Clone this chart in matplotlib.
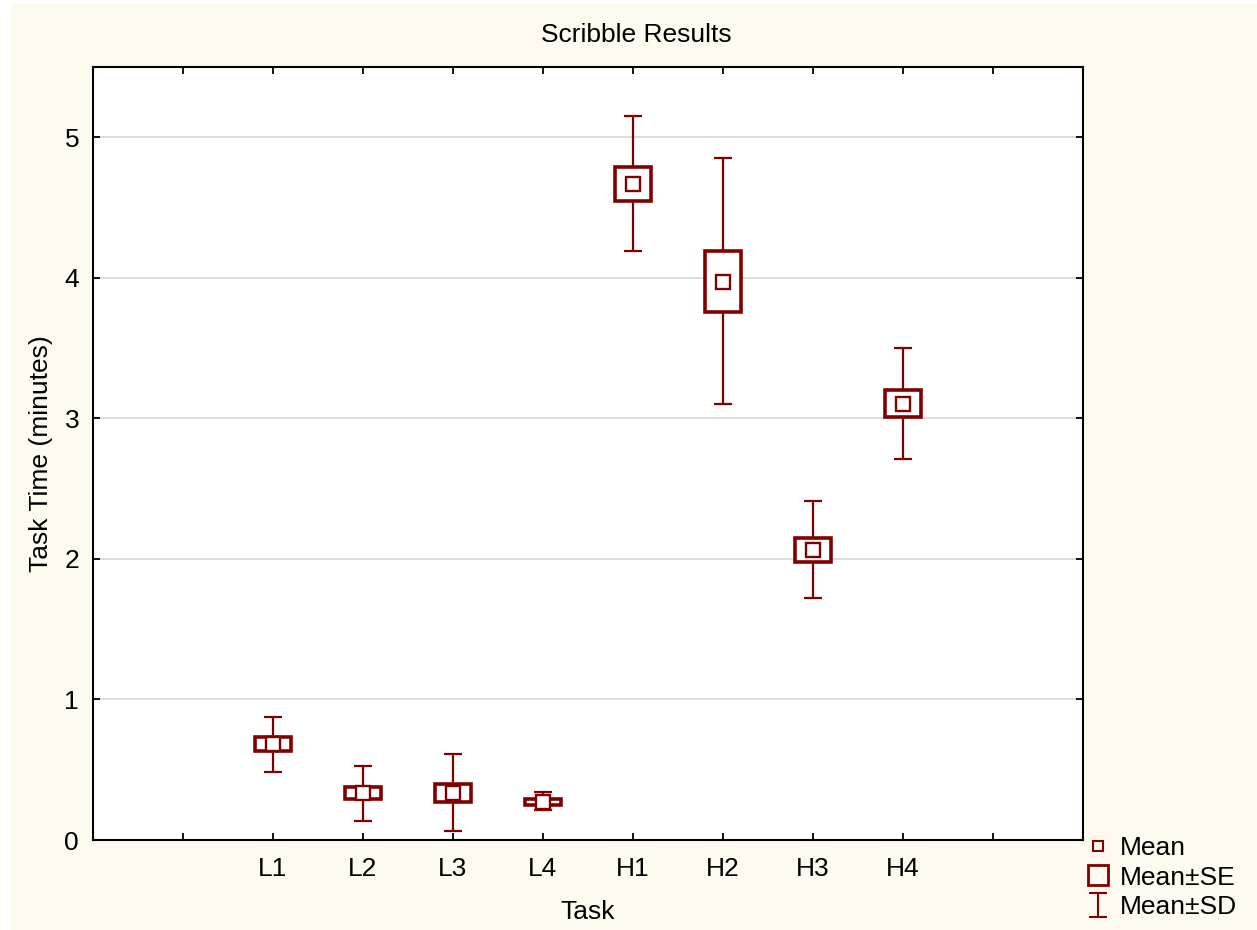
import matplotlib

matplotlib.use('Agg')
import matplotlib.pyplot as plt
from matplotlib.patches import Rectangle
from matplotlib.lines import Line2D
from matplotlib.path import Path

tasks = ['L1', 'L2', 'L3', 'L4', 'H1', 'H2', 'H3', 'H4']
mean = [0.68, 0.335, 0.335, 0.27, 4.665, 3.97, 2.065, 3.105]
se_lo = [0.63, 0.29, 0.27, 0.25, 4.55, 3.76, 1.98, 3.01]
se_hi = [0.73, 0.38, 0.40, 0.29, 4.79, 4.19, 2.15, 3.20]
sd_lo = [0.484, 0.135, 0.064, 0.21, 4.19, 3.10, 1.72, 2.71]
sd_hi = [0.876, 0.527, 0.61, 0.34, 5.15, 4.85, 2.41, 3.50]

RED = '#800000'
CREAM = '#FFFAEF'

plt.rcParams['font.family'] = ['Liberation Sans', 'DejaVu Sans']

fig = plt.figure(figsize=(12.57, 9.30), dpi=100)
fig.patch.set_facecolor('white')
fig.patches.append(Rectangle((11 / 1257, 0), 1, 926 / 930, transform=fig.transFigure,
                             facecolor=CREAM, edgecolor='none', zorder=-10))

ax = fig.add_axes([93 / 1257, 1 - 840 / 930, 990 / 1257, 773 / 930])
ax.set_facecolor('white')

x = list(range(2, 2 + len(tasks)))

# SD whiskers first, SE boxes (white filled) cover the middle part
ax.vlines(x, sd_lo, sd_hi, color=RED, lw=1.6, zorder=2)
ax.hlines(sd_lo, [v - 0.1 for v in x], [v + 0.1 for v in x], color=RED, lw=1.6, zorder=2)
ax.hlines(sd_hi, [v - 0.1 for v in x], [v + 0.1 for v in x], color=RED, lw=1.6, zorder=2)
ax.bar(x, [h - l for h, l in zip(se_hi, se_lo)], bottom=se_lo, width=0.39,
       facecolor='white', edgecolor=RED, linewidth=2.6, zorder=3)
ax.plot(x, mean, linestyle='none', marker='s', markersize=9.5, markerfacecolor='white',
        markeredgecolor=RED, markeredgewidth=1.7, zorder=4)

ax.set_xlim(0, 11)
ax.set_ylim(0, 5.5)
ax.set_xticks(range(1, 11))
ax.set_xticklabels([''] + tasks + [''])
ax.set_yticks(range(0, 6))
ax.yaxis.grid(True, color='#d9d9d9', lw=1.3)
ax.set_axisbelow(True)
ax.tick_params(direction='in', length=5, width=1.3, top=True, right=True,
               labelsize=19, pad=12)
ax.tick_params(axis='y', pad=10)
for s in ax.spines.values():
    s.set_linewidth(1.5)

fig.text(636 / 1257, 1 - 35 / 930, 'Scribble Results', fontsize=19, ha='center', va='center')
ax.set_xlabel('Task', fontsize=19, labelpad=14)
ax.set_ylabel('Task Time (minutes)', fontsize=19, labelpad=8)

ibeam = Path([(-0.4, -0.5), (0.4, -0.5), (0, -0.5), (0, 0.5), (-0.4, 0.5), (0.4, 0.5)],
             [Path.MOVETO, Path.LINETO, Path.MOVETO, Path.LINETO, Path.MOVETO, Path.LINETO])
handles = [
    Line2D([], [], linestyle='none', marker='s', markersize=7.5, markerfacecolor='none',
           markeredgecolor=RED, markeredgewidth=1.5),
    Line2D([], [], linestyle='none', marker='s', markersize=15, markerfacecolor='none',
           markeredgecolor=RED, markeredgewidth=2),
    Line2D([], [], linestyle='none', marker=ibeam, markersize=17, markerfacecolor='none',
           markeredgecolor=RED, markeredgewidth=1.5),
]
fig.legend(handles, ['Mean', 'Mean\u00b1SE', 'Mean\u00b1SD'], loc='lower left',
           bbox_to_anchor=(1074 / 1257, 0.0), frameon=False, fontsize=19,
           handlelength=1.0, handletextpad=0.35, labelspacing=0.22, borderaxespad=0.0)

fig.savefig('out.png', dpi=100, facecolor=fig.get_facecolor())
